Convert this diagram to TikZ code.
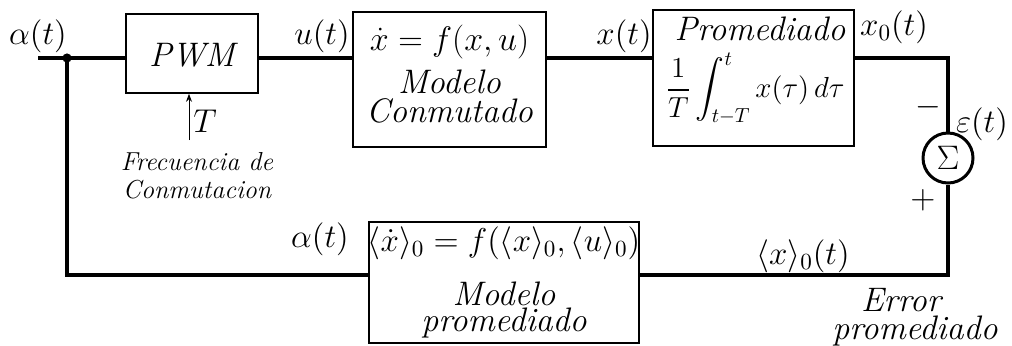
\RequirePackage{fix-cm}
\documentclass[tikz,border=0pt]{standalone}
\usepackage{amsmath}
\usetikzlibrary{arrows.meta}
\begin{document}
\begin{tikzpicture}[x=0.5pt,y=-0.5pt,
  font=\fontsize{16.5}{19}\selectfont,
  blk/.style={draw, line width=0.8pt, inner sep=0pt},
  sig/.style={line width=2pt},
  lbl/.style={inner sep=0pt},
  word/.style={inner sep=0pt, align=center, font=\fontsize{17}{19}\selectfont\itshape},
  small/.style={inner sep=0pt, align=center, font=\fontsize{13}{15}\selectfont\itshape}]
\useasboundingbox (0,0) rectangle (1012,345);
% blocks
\node[blk, minimum width=66pt, minimum height=39.5pt] (pwm) at (192,53.5) {};
\node[blk, minimum width=96.5pt, minimum height=67.5pt] (mod) at (449.5,79.5) {};
\node[blk, minimum width=100.5pt, minimum height=68pt] (avg) at (753.5,78) {};
\node[blk, minimum width=135pt, minimum height=60.5pt] (bot) at (504,282.5) {};
\node[draw, circle, line width=1.5pt, minimum size=25pt, inner sep=0pt, font=\fontsize{17}{19}\selectfont] (sum) at (948,158) {$\Sigma$};
% texts in blocks
\node[word] (tpwm) at (192,55) {PWM};
\node[word, anchor=north] (tm) at (449.5,25) {$\dot{x}=f(x,u)$\\[2.5pt]Modelo\\[-4.5pt]Conmutado};
\node[word] (ta1) at (760,29) {Promediado};
\node[lbl, font=\fontsize{14.5}{16}\selectfont] (ta2) at (755,89) {$\dfrac{1}{T}\displaystyle\int_{t-T}^{t} x(\tau)\,d\tau$};
\node[lbl] (tb1) at (504,243) {$\langle\dot{x}\rangle_0=f(\langle x\rangle_0,\langle u\rangle_0)$};
\node[word, font=\fontsize{17}{13}\selectfont\itshape] (tb2) at (504,310) {Modelo\\promediado};
% coordinates
\coordinate (in) at (38,58);
\coordinate (jn) at (67,58);
\coordinate (jb) at (67,275);
\coordinate (ts) at (189,140);
% signal lines
\draw[sig] (in) -- (in -| pwm.west);
\draw[sig] (pwm.east |- in) -- (mod.west |- in);
\draw[sig] (mod.east |- in) -- (avg.west |- in);
\draw[sig] (avg.east |- in) -| (sum.north);
\draw[sig] (sum.south) |- (bot.east |- jb);
\draw[sig] (bot.west |- jb) -- (jb) -- (jn);
\fill (jn) circle (2.3pt);
\draw[line width=0.5pt, -{Stealth[length=4pt,width=3pt]}] (ts) -- (ts |- pwm.south);
% labels
\node[lbl] (la) at (38,36) {$\alpha(t)$};
\node[lbl] (lu) at (322,36) {$u(t)$};
\node[lbl] (lx) at (624,36) {$x(t)$};
\node[lbl] (lx0) at (894,27) {$x_0(t)$};
\node[lbl] (lT) at (205,121) {$T$};
\node[small, font=\fontsize{13}{14}\selectfont\itshape] (lf) at (197,176) {Frecuencia de\\Conmutacion};
\node[lbl] (lminus) at (928,107) {$-$};
\node[lbl] (lplus) at (923,200) {$+$};
\node[lbl] (leps) at (982,124) {$\varepsilon(t)$};
\node[lbl] (lab) at (320,239) {$\alpha(t)$};
\node[lbl] (lxa) at (803,256) {$\langle x\rangle_0(t)$};
\node[word, font=\fontsize{17}{14}\selectfont\itshape] (le) at (915,317) {\hspace*{-14pt}Error\\promediado};
\end{tikzpicture}
\end{document}
